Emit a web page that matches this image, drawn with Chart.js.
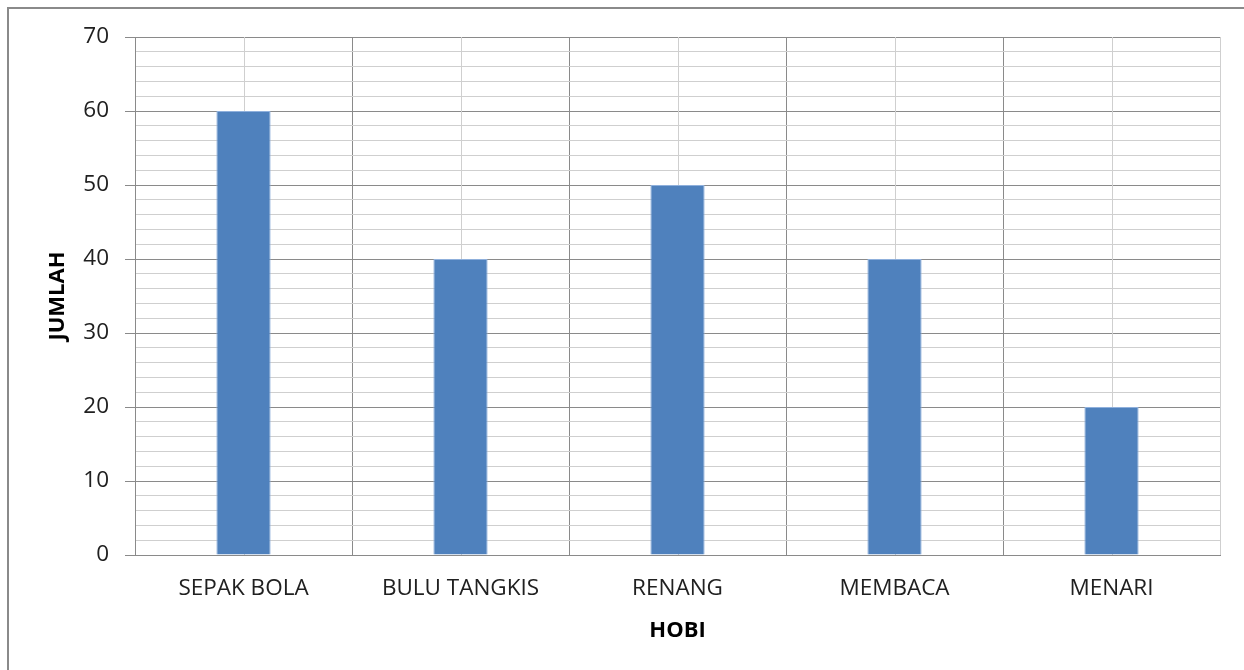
<!DOCTYPE html>
<html>
<head>
<meta charset="utf-8">
<script src="https://cdn.jsdelivr.net/npm/chart.js@4"></script>
<style>
  html, body { margin: 0; padding: 0; background: #ffffff; }
  canvas { display: block; }
</style>
</head>
<body>
<canvas id="c" width="1244" height="670"></canvas>
<script>
const categories = ['SEPAK BOLA', 'BULU TANGKIS', 'RENANG', 'MEMBACA', 'MENARI'];
const jumlah = [60, 40, 50, 40, 20];
const yMin = 0, yMax = 70, yMinorStep = 2, yMajorStep = 10;
const xTitle = 'HOBI';
const yTitle = 'JUMLAH';

const MAJOR = '#8a8a8a';
const MINOR = '#cfcfcf';

const frame = {
  id: 'frame',
  beforeDraw(chart) {
    const ctx = chart.ctx;
    ctx.save();
    ctx.fillStyle = '#ffffff';
    ctx.fillRect(0, 0, chart.width, chart.height);
    ctx.strokeStyle = '#8a8a8a';
    ctx.lineWidth = 2;
    ctx.beginPath();
    ctx.moveTo(8, chart.height);
    ctx.lineTo(8, 8);
    ctx.lineTo(chart.width, 8);
    ctx.stroke();
    ctx.restore();
  }
};

const centerLines = {
  id: 'centerLines',
  beforeDatasetsDraw(chart) {
    const xs = chart.scales.x, a = chart.chartArea, ctx = chart.ctx;
    ctx.save();
    ctx.strokeStyle = MINOR;
    ctx.lineWidth = 1;
    categories.forEach((c, i) => {
      const px = Math.round(xs.getPixelForValue(i)) + 0.5;
      ctx.beginPath();
      ctx.moveTo(px, a.top);
      ctx.lineTo(px, a.bottom);
      ctx.stroke();
    });
    ctx.restore();
  }
};

new Chart(document.getElementById('c'), {
  type: 'bar',
  data: {
    labels: categories,
    datasets: [{
      data: jumlah,
      backgroundColor: '#4f81bd',
      borderColor: '#8fb0dc',
      borderWidth: 1,
      categoryPercentage: 1.0,
      barPercentage: 0.25
    }]
  },
  options: {
    responsive: false,
    animation: false,
    devicePixelRatio: 1,
    layout: { padding: { top: 37, right: 24, left: 0, bottom: 0 } },
    plugins: { legend: { display: false }, tooltip: { enabled: false } },
    scales: {
      x: {
        offset: true,
        afterFit(s) { s.height = 115; },
        grid: {
          offset: true,
          drawTicks: false,
          color: (ctx) => (ctx.index === undefined ? MINOR : MAJOR),
          lineWidth: 1
        },
        border: { color: MAJOR, width: 1 },
        ticks: {
          padding: 20,
          color: '#202020',
          font: { family: '"Open Sans", "Liberation Sans", sans-serif', size: 22.5 }
        },
        title: {
          display: true,
          text: xTitle,
          color: '#000000',
          padding: { top: 0, bottom: 26 },
          font: { family: '"Open Sans", "Liberation Sans", sans-serif', size: 22, weight: 'bold' }
        }
      },
      y: {
        min: yMin,
        max: yMax,
        afterFit(s) { s.width = 135; },
        grid: {
          color: (ctx) => (ctx.tick && ctx.tick.value % yMajorStep === 0 ? MAJOR : MINOR),
          tickColor: (ctx) => (ctx.tick && ctx.tick.value % yMajorStep === 0 ? MAJOR : 'rgba(0,0,0,0)'),
          tickLength: 10,
          lineWidth: 1
        },
        border: { color: MAJOR, width: 1 },
        ticks: {
          stepSize: yMinorStep,
          autoSkip: false,
          padding: 16,
          color: '#202020',
          font: { family: '"Open Sans", "Liberation Sans", sans-serif', size: 22.5 },
          callback: (v) => (v % yMajorStep === 0 ? String(v) : '')
        },
        title: {
          display: true,
          text: yTitle,
          color: '#000000',
          padding: { top: 45, bottom: 0 },
          font: { family: '"Open Sans", "Liberation Sans", sans-serif', size: 22, weight: 'bold' }
        }
      }
    }
  },
  plugins: [frame, centerLines]
});
</script>
</body>
</html>
